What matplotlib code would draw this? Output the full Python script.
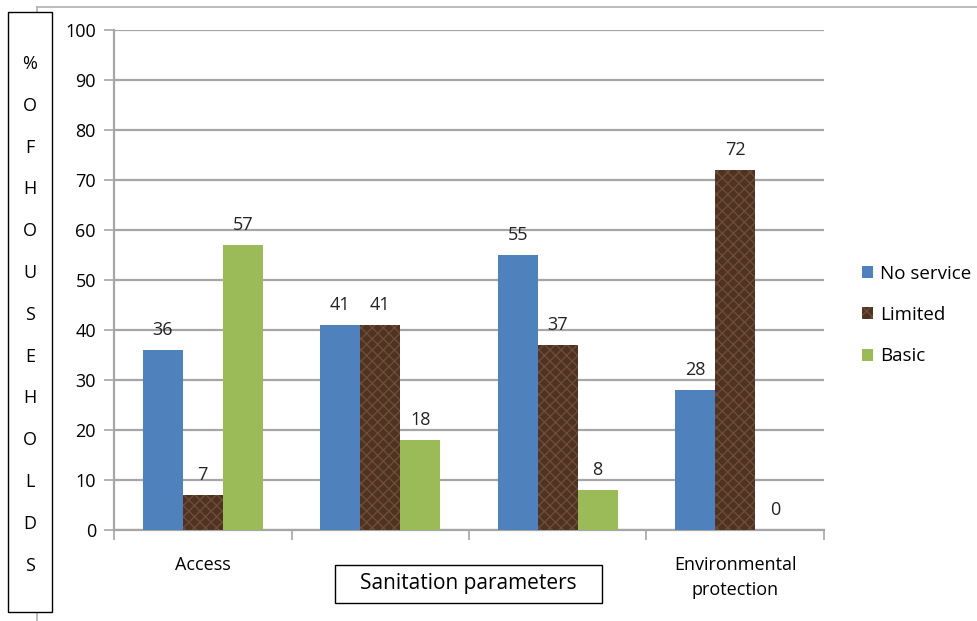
import matplotlib.pyplot as plt
import matplotlib.patches as mpatches
import matplotlib.lines as mlines
import numpy as np

plt.rcParams['font.family'] = ['Open Sans', 'DejaVu Sans']

categories = ["Access", "", "", "Environmental\nprotection"]
series_names = ["No service", "Limited", "Basic"]
no_service = [36, 41, 55, 28]
limited = [7, 41, 37, 72]
basic = [57, 18, 8, 0]
y_ticks = [0, 10, 20, 30, 40, 50, 60, 70, 80, 90, 100]
ylabel_letters = ["%", "O", "F", "H", "O", "U", "S", "E", "H", "O", "L", "D", "S"]
xlabel_text = "Sanitation parameters"

colors = ["#4f81bd", "#4e3222", "#9bbb59"]
grid_color = "#a6a6a6"


def main():
    fig = plt.figure(figsize=(9.78, 6.21), dpi=100)
    ax = fig.add_axes([0.1166, 0.1465, 0.7259, 0.8052])

    x = np.arange(len(categories))
    width = 0.225
    values = [no_service, limited, basic]
    for i, (name, vals) in enumerate(zip(series_names, values)):
        pos = x + (i - 1) * width
        bars = ax.bar(pos, vals, width, color=colors[i], label=name, zorder=3)
        if i == 1:
            for b in bars:
                b.set_hatch("xxx")
                b.set_edgecolor("#6e4d38")
                b.set_linewidth(0)
        for p, v in zip(pos, vals):
            ax.annotate(str(v), (p, v), xytext=(0, 8),
                        textcoords="offset points", ha="center", va="bottom",
                        fontsize=13, color="#222222", zorder=4)

    ax.set_ylim(0, 100)
    ax.set_xlim(-0.5, len(categories) - 0.5)
    ax.set_yticks(y_ticks)
    ax.yaxis.grid(True, color=grid_color, linewidth=1.6, zorder=0)
    ax.set_axisbelow(True)
    ax.set_xticks(np.arange(len(categories) + 1) - 0.5, minor=True)
    ax.set_xticks(x)
    ax.set_xticklabels(categories, fontsize=13, linespacing=1.45)
    ax.tick_params(axis="x", which="major", length=0, pad=19)
    ax.tick_params(axis="x", which="minor", length=7, color=grid_color, width=1.2)
    ax.tick_params(axis="y", length=7, color=grid_color, width=1.2, labelsize=13, pad=6)
    for side in ["top", "right"]:
        ax.spines[side].set_visible(False)
    for side in ["left", "bottom"]:
        ax.spines[side].set_color(grid_color)
        ax.spines[side].set_linewidth(1.6)

    ax.legend(loc="center left", bbox_to_anchor=(1.03, 0.43), frameon=False,
              fontsize=13.5, handlelength=0.6, handleheight=0.6,
              handletextpad=0.35, labelspacing=1.25)

    # outer chart frame (partially visible)
    fig.add_artist(mlines.Line2D([37 / 978, 1], [1 - 7 / 621, 1 - 7 / 621],
                                 color="#b0b0b0", linewidth=1.2))
    fig.add_artist(mlines.Line2D([37 / 978, 37 / 978], [0, 1 - 7 / 621],
                                 color="#b0b0b0", linewidth=1.2))

    # boxed vertical y label
    fig.add_artist(mpatches.Rectangle((8 / 978, 1 - 612 / 621), 44 / 978, 600 / 621,
                                      facecolor="white", edgecolor="black",
                                      linewidth=1.0, zorder=5))
    for k, ch in enumerate(ylabel_letters):
        fig.text(30 / 978, 1 - (64 + k * 41.8) / 621, ch, ha="center", va="center",
                 fontsize=13, zorder=6)

    # boxed x label
    fig.add_artist(mpatches.Rectangle((335 / 978, 1 - 603 / 621), 267 / 978, 38 / 621,
                                      facecolor="white", edgecolor="black",
                                      linewidth=1.0, zorder=5))
    fig.text(468 / 978, 1 - 584 / 621, xlabel_text, ha="center", va="center",
             fontsize=15, zorder=6)

    fig.savefig("out.png", dpi=100)


if __name__ == "__main__":
    main()
